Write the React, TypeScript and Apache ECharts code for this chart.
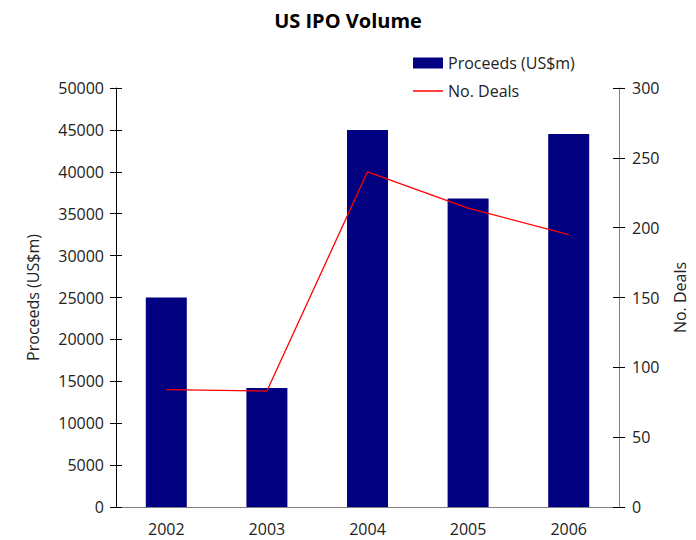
import React, { useEffect, useRef } from "react";
import * as echarts from "echarts";

const years = ["2002", "2003", "2004", "2005", "2006"];
const proceeds = [25000, 14200, 45000, 36800, 44500];
const deals = [84, 83, 240, 214, 195];

const FONT = "'Open Sans', 'Noto Sans', sans-serif";
const FS = 16;

export default function App() {
  const ref = useRef<HTMLDivElement>(null);
  useEffect(() => {
    const chart = echarts.init(ref.current!, null, { renderer: "svg" });
    const leftBase = {
      type: "value",
      min: 0,
      max: 50000,
      interval: 5000,
      position: "left",
      splitLine: { show: false },
    };
    const rightBase = {
      type: "value",
      min: 0,
      max: 300,
      interval: 50,
      position: "right",
      splitLine: { show: false },
    };
    const labelStyle = { fontFamily: FONT, fontSize: FS, color: "#222" };
    chart.setOption({
      animation: false,
      backgroundColor: "#ffffff",
      textStyle: { fontFamily: FONT },
      title: {
        text: "US IPO Volume",
        left: "center",
        top: 5,
        textStyle: { fontFamily: FONT, fontSize: 20, fontWeight: "bold", color: "#000" },
      },
      legend: [
        {
          data: [{ name: "Proceeds (US$m)", icon: "rect" }],
          left: 413,
          top: 55,
          padding: 0,
          itemWidth: 30,
          itemHeight: 11,
          textStyle: labelStyle,
        },
        {
          data: [{ name: "No. Deals", icon: "rect", itemStyle: { color: "#ff0000" } }],
          left: 413,
          top: 83,
          padding: 0,
          itemWidth: 30,
          itemHeight: 1.5,
          textStyle: labelStyle,
        },
      ],
      grid: { left: 116, right: 75, top: 88, bottom: 33 },
      xAxis: {
        type: "category",
        data: years,
        axisLine: { show: true, lineStyle: { color: "#808080", width: 1 } },
        axisTick: { show: false },
        axisLabel: { ...labelStyle, margin: 14 },
      },
      yAxis: [
        {
          ...leftBase,
          name: "Proceeds (US$m)",
          nameLocation: "middle",
          nameGap: 75,
          nameTextStyle: labelStyle,
          axisLine: { show: true, lineStyle: { color: "#000", width: 1 } },
          axisTick: { show: true, length: 6, lineStyle: { color: "#000" } },
          axisLabel: { ...labelStyle, margin: 12, formatter: (v: number) => String(v) },
        },
        {
          ...rightBase,
          name: "No. Deals",
          nameLocation: "middle",
          nameGap: 53,
          nameTextStyle: labelStyle,
          axisLine: { show: true, lineStyle: { color: "#808080", width: 1 } },
          axisTick: { show: true, length: 6, lineStyle: { color: "#000" } },
          axisLabel: { ...labelStyle, margin: 13 },
        },
        {
          ...leftBase,
          axisLine: { show: false },
          axisTick: { show: true, inside: true, length: 6, lineStyle: { color: "#000" } },
          axisLabel: { show: false },
        },
        {
          ...rightBase,
          axisLine: { show: false },
          axisTick: { show: true, inside: true, length: 6, lineStyle: { color: "#000" } },
          axisLabel: { show: false },
        },
      ],
      series: [
        {
          name: "Proceeds (US$m)",
          type: "bar",
          data: proceeds,
          yAxisIndex: 0,
          barWidth: 41,
          itemStyle: { color: "#000080" },
        },
        {
          name: "No. Deals",
          type: "line",
          data: deals,
          yAxisIndex: 1,
          symbol: "none",
          lineStyle: { color: "#ff0000", width: 1.3 },
          itemStyle: { color: "#ff0000" },
          z: 5,
        },
      ],
    });
    return () => chart.dispose();
  }, []);
  return (
    <div
      ref={ref}
      style={{ position: "absolute", left: 0, top: 0, width: 696, height: 540 }}
    />
  );
}
